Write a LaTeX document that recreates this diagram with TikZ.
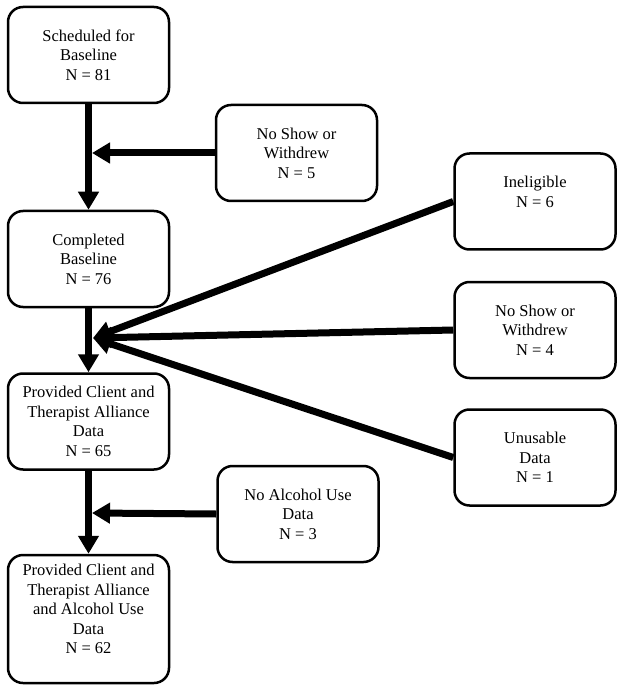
\documentclass[tikz,border=0pt]{standalone}
\usepackage{fontspec}
\setmainfont{Liberation Serif}
\usetikzlibrary{arrows.meta}
\begin{document}
\begin{tikzpicture}[x=1pt,y=-1pt,
  flowbox/.style={draw, line width=2.5pt, rounded corners=15pt, minimum width=161pt, minimum height=96pt, align=center, inner sep=0pt, font=\fontsize{16.5pt}{19.5pt}\selectfont},
  flowarrow/.style={line width=7pt, -{Triangle[length=18pt,width=20pt]}}]
\useasboundingbox (0,0) rectangle (624,692);
% main column
\node[flowbox] (b1) at (88.5,55) {Scheduled for\\Baseline\\N = 81};
\node[flowbox] (b2) at (88.5,259) {Completed\\Baseline\\N = 76};
\node[flowbox] (b3) at (88.5,421.5) {Provided Client and\\Therapist Alliance\\Data\\N = 65};
\node[flowbox, minimum height=128pt] (b4) at (88.5,619) {Provided Client and\\Therapist Alliance\\and Alcohol Use\\Data\\N = 62\\\mbox{}};
% side boxes
\node[flowbox] (ns1) at (296.5,153) {No Show or\\Withdrew\\N = 5};
\node[flowbox] (na) at (298,514) {No Alcohol Use\\Data\\N = 3};
\node[flowbox] (ie) at (535,201.5) {Ineligible\\N = 6\\\mbox{}};
\node[flowbox] (ns2) at (535,330) {No Show or\\Withdrew\\N = 4};
\node[flowbox] (un) at (535,457.5) {Unusable\\Data\\N = 1};
% junctions
\coordinate (j1) at (92,153);
\coordinate (j2) at (93,338);
\coordinate (j3) at (92,513);
% arrows
\draw[flowarrow] (b1.south) -- (b2.north);
\draw[flowarrow] (ns1.west) -- (j1);
\draw[flowarrow] (b2.south) -- (b3.north);
\draw[flowarrow] (ie.west) -- (j2);
\draw[flowarrow] (ns2.west) -- (j2);
\draw[flowarrow] (un.west) -- (j2);
\draw[flowarrow] (b3.south) -- (b4.north);
\draw[flowarrow] (na.west) -- (j3);
\end{tikzpicture}
\end{document}
